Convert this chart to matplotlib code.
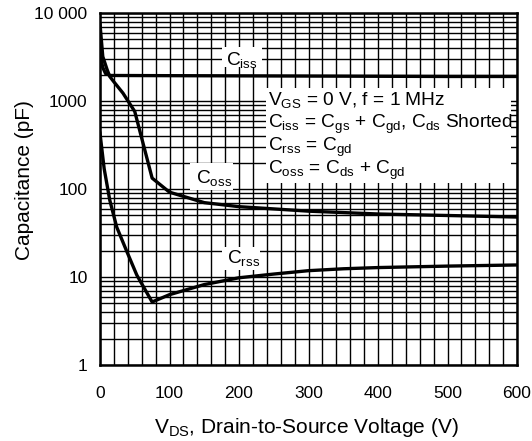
import matplotlib
matplotlib.use("Agg")
import matplotlib.pyplot as plt
from matplotlib.patches import Rectangle
from matplotlib.ticker import NullFormatter, LogLocator

plt.rcParams['font.family'] = ['Liberation Sans', 'DejaVu Sans']
plt.rcParams['mathtext.fontset'] = 'custom'
plt.rcParams['mathtext.rm'] = 'Liberation Sans'
plt.rcParams['mathtext.it'] = 'Liberation Sans'
plt.rcParams['mathtext.default'] = 'regular'

# ---- data ----
v_ciss = [0, 4, 8, 15, 100, 200, 300, 400, 500, 600]
c_ciss = [3400, 2400, 2050, 1950, 1940, 1930, 1920, 1910, 1900, 1900]

v_coss = [0, 4, 10, 14, 20, 33, 50, 75, 100, 150, 200, 300, 400, 500, 600]
c_coss = [7500, 3200, 2300, 1900, 1650, 1230, 760, 133, 92, 70, 63, 56, 52, 50, 48]

v_crss = [0, 6, 14, 24, 38, 53, 75, 100, 150, 200, 250, 300, 350, 400, 500, 600]
c_crss = [430, 170, 75, 37, 20, 10.5, 5.2, 6.3, 8.2, 9.8, 10.8, 11.8, 12.4, 12.8, 13.3, 13.7]

x_ticks = [0, 100, 200, 300, 400, 500, 600]
y_ticks = [1, 10, 100, 1000, 10000]
y_tick_labels = ['1', '10', '100', '1000', '10 000']

fig = plt.figure(figsize=(5.32, 4.41), dpi=100)
ax = fig.add_axes([100/532, 76/441, 417/532, 352/441])

ax.set_yscale('log')
ax.set_xlim(0, 600)
ax.set_ylim(1, 10000)

ax.set_xticks(x_ticks)
ax.set_xticks(list(range(0, 601, 20)), minor=True)
ax.set_yticks(y_ticks)
ax.set_yticklabels(y_tick_labels)
ax.yaxis.set_minor_locator(LogLocator(base=10, subs=range(2, 10)))
ax.yaxis.set_minor_formatter(NullFormatter())

ax.grid(True, which='both', color='black', linewidth=1.0)
ax.set_axisbelow(True)
ax.tick_params(which='both', length=0)
ax.tick_params(axis='x', pad=15, labelsize=12.5)
ax.tick_params(axis='y', pad=9, labelsize=12.5)
for s in ax.spines.values():
    s.set_linewidth(1.8)

lw = 2.4
ax.plot(v_ciss, c_ciss, color='black', lw=lw, zorder=4, solid_joinstyle='round')
ax.plot(v_coss, c_coss, color='black', lw=lw, zorder=4, solid_joinstyle='round')
ax.plot(v_crss, c_crss, color='black', lw=lw, zorder=4, solid_joinstyle='round')

# white box for conditions
ax.add_patch(Rectangle((0.398, 0.517), 0.587, 0.270, transform=ax.transAxes,
                       facecolor='white', edgecolor='none', zorder=2))
fs = 13.8
lines = [r'$V_{GS}$ = 0 V, f = 1 MHz',
         r'$C_{iss}$ = $C_{gs}$ + $C_{gd}$, $C_{ds}$ Shorted',
         r'$C_{rss}$ = $C_{gd}$',
         r'$C_{oss}$ = $C_{ds}$ + $C_{gd}$']
ys = [0.739, 0.673, 0.608, 0.543]
for t, yy in zip(lines, ys):
    ax.text(0.403, yy, t, transform=ax.transAxes, fontsize=fs, va='baseline',
            ha='left', zorder=3)

# curve labels with white background
for t, (x0, y0, bx, by, bw, bh) in zip(
        [r'$C_{iss}$', r'$C_{oss}$', r'$C_{rss}$'],
        [(0.303, 0.852, 0.293, 0.847, 0.096, 0.057),
         (0.231, 0.517, 0.216, 0.497, 0.103, 0.077),
         (0.305, 0.290, 0.293, 0.270, 0.091, 0.065)]):
    ax.add_patch(Rectangle((bx, by), bw, bh, transform=ax.transAxes,
                           facecolor='white', edgecolor='none', zorder=2))
    ax.text(x0, y0, t, transform=ax.transAxes, fontsize=fs, va='baseline',
            ha='left', zorder=3)

ax.set_xlabel(r'$V_{DS}$, Drain-to-Source Voltage (V)', fontsize=15)
ax.set_ylabel('Capacitance (pF)', fontsize=15)
ax.xaxis.set_label_coords(0.495, -0.145)
ax.yaxis.set_label_coords(-0.182, 0.526)
ax.yaxis.label.set_va('center')

fig.savefig('out.png', dpi=100)
